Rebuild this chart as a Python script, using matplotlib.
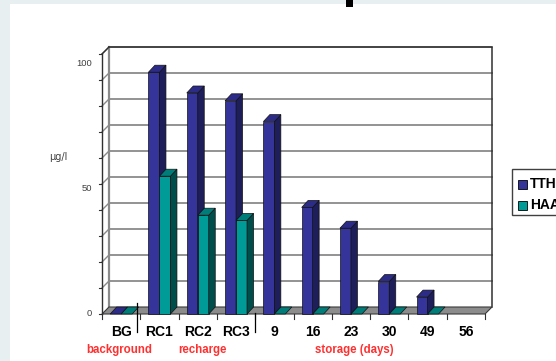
import numpy as np
import matplotlib.pyplot as plt
from matplotlib.patches import Polygon, Rectangle

categories = ['BG', 'RC1', 'RC2', 'RC3', '9', '16', '23', '30', '49', '56']
tth = [0, 93, 85, 82, 74, 41, 33, 12.5, 6.5, np.nan]
haa = [0, 53, 38, 36, 0, 0, 0, 0, 0, np.nan]
series_names = ['TTH', 'HAA']
group_labels = ['background', 'recharge', 'storage (days)']
y_labels = [0, 50, 100]

W, H = 556, 361
PX_CAT = 38.3      # pixels per category
PX_VAL = 2.6       # pixels per unit
X0, Y0 = 102, 314  # front-left corner of the floor, in pixels

# depth of the walls and of the bars, in data units
DX, DY = 7 / PX_CAT, 7 / PX_VAL
BDX, BDY = 6.5 / PX_CAT, 7 / PX_VAL
BW = 11 / PX_CAT

face = {'TTH': ('#34349a', '#1e1e5a', '#2c2c88'),
        'HAA': ('#009a97', '#004e4c', '#007c79')}


def fig_xy(x, y):
    return x / W, 1 - y / H


fig = plt.figure(figsize=(W / 100, H / 100), dpi=100)
fig.patch.set_facecolor('#e8eff0')
fig.patches.append(Rectangle(fig_xy(9.5, H), 1, 1 - 3.5 / H, transform=fig.transFigure,
                             facecolor='white', edgecolor='none', zorder=-10))
fig.patches.append(Rectangle(fig_xy(346, 6.7), 6.7 / W, 6.7 / H, transform=fig.transFigure,
                             facecolor='black', edgecolor='none'))

ax = fig.add_axes([0, 0, 1, 1])
ax.set_xlim(-X0 / PX_CAT - 0.5, (W - X0) / PX_CAT - 0.5)
ax.set_ylim(-(H - Y0) / PX_VAL, Y0 / PX_VAL)
ax.axis('off')

n = len(categories)
left, right = -0.5, n - 0.5

# back wall and floor
ax.add_patch(Polygon([(left + DX, DY), (right + DX, DY), (right + DX, 100 + DY),
                      (left + DX, 100 + DY)], closed=True, facecolor='white',
                     edgecolor='none', zorder=1))
for v in range(10, 101, 10):
    ax.plot([left + DX, right + DX], [v + DY, v + DY], color='#8a8a8a', lw=1.3, zorder=2)
    ax.plot([left, left + DX], [v, v + DY], color='#8a8a8a', lw=1.0, zorder=2)
ax.plot([left + DX, left + DX], [DY, 100 + DY], color='#8a8a8a', lw=1.6, zorder=2)
ax.plot([left + DX, right + DX, right + DX], [100 + DY, 100 + DY, DY],
        color='#303030', lw=1.1, zorder=3)
ax.plot([left, left + DX], [100, 100 + DY], color='#303030', lw=1.0, zorder=3)
ax.add_patch(Polygon([(left, 0), (right, 0), (right + DX, DY), (left + DX, DY)],
                     closed=True, facecolor='#8c8c8c', edgecolor='#3a3a3a', lw=0.8, zorder=3))

# value axis on the front edge
ax.plot([left, left], [0, 100], color='#303030', lw=1.0, zorder=4)
for v in range(0, 101, 10):
    ax.plot([left - 3 / PX_CAT, left], [v, v], color='#303030', lw=0.8, zorder=4)
for v in y_labels:
    ax.text(left - 10 / PX_CAT, v * 0.965, str(v), ha='right', va='center',
            fontsize=6.8, color='#404040', family='Liberation Sans')
fig.text(*fig_xy(49, 157), 'μg/l', ha='left', va='center', fontsize=7,
         color='#404040', family='DejaVu Sans')

# category ticks under the floor
for b in np.arange(left, right + 1):
    ax.plot([b, b], [0, -5 / PX_VAL], color='#303030', lw=0.8, zorder=4)


def draw_bar(x0, v, name):
    front, side, top = face[name]
    x1 = x0 + BW
    kw = dict(closed=True, edgecolor='#101010', lw=0.5, zorder=5)
    if v > 0:
        ax.add_patch(Polygon([(x0, 0), (x1, 0), (x1, v), (x0, v)], facecolor=front, **kw))
        ax.add_patch(Polygon([(x1, 0), (x1 + BDX, BDY), (x1 + BDX, v + BDY), (x1, v)],
                             facecolor=side, **kw))
    ax.add_patch(Polygon([(x0, v), (x1, v), (x1 + BDX, v + BDY), (x0 + BDX, v + BDY)],
                         facecolor=top, **kw))


for i in range(n):
    for j, (name, vals) in enumerate(zip(series_names, [tth, haa])):
        if not np.isnan(vals[i]):
            draw_bar(i - BW + j * BW, vals[i], name)
    ax.text(i, -18 / PX_VAL, categories[i], ha='center', va='center', fontsize=10,
            fontweight='bold', family='Liberation Sans', color='black')

# separators between sampling phases
ax.plot([0.5 - 0.09, 0.5 - 0.09], [11 / PX_VAL, -18 / PX_VAL], color='black', lw=0.9, zorder=6)
ax.plot([3.5, 3.5], [0.4, -18 / PX_VAL], color='black', lw=0.9, zorder=6)

for label, xpos in zip(group_labels, [-0.04, 2.12, 6.09]):
    ax.text(xpos, -36 / PX_VAL, label, ha='center', va='center', fontsize=8.3,
            fontweight='bold', family='Liberation Sans', color='#ff3030')

# legend box running off the right edge
fig.patches.append(Rectangle(fig_xy(512, 215), 80 / W, 46 / H, transform=fig.transFigure,
                             facecolor='white', edgecolor='#404040', lw=1.0))
for k, name in enumerate(series_names):
    yc = 184 + k * 21
    fig.patches.append(Rectangle(fig_xy(518, yc + 4.5), 9 / W, 9 / H, transform=fig.transFigure,
                                 facecolor=face[name][0], edgecolor='black', lw=0.6))
    fig.text(*fig_xy(530, yc), name, ha='left', va='center', fontsize=10,
             fontweight='bold', family='Liberation Sans', color='black')

fig.savefig('out.png', dpi=100)
